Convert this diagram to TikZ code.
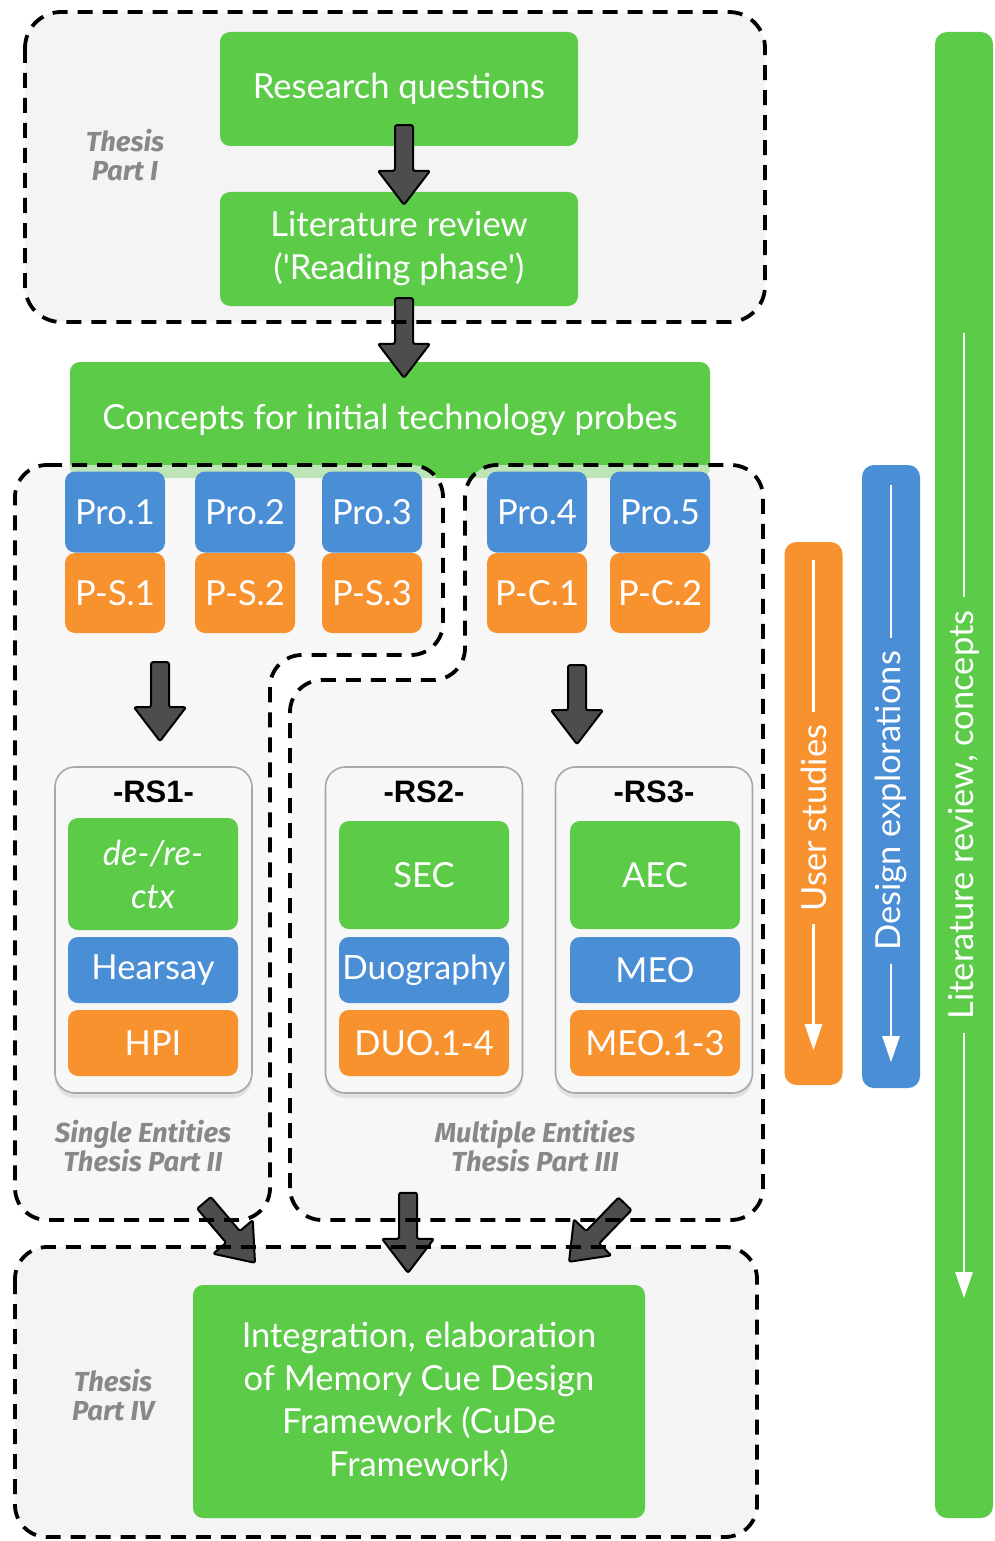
\documentclass[tikz,border=0pt]{standalone}
\usepackage{fontspec}
\setmainfont{Lato}
\newfontfamily\rsfont{Liberation Sans}
\newfontfamily\labelfont{Fira Sans}
\usetikzlibrary{calc,arrows.meta,shadows}

\definecolor{cgreen}{HTML}{5CCB48}
\definecolor{cblue}{HTML}{4A8ED6}
\definecolor{corange}{HTML}{F8922F}
\definecolor{cgrayfill}{HTML}{F4F4F4}
\definecolor{cbox}{HTML}{F7F7F7}
\definecolor{carrow}{HTML}{4D4D4D}
\definecolor{clabel}{HTML}{888888}
\definecolor{cframe}{HTML}{A8A8A8}

\begin{document}
\begin{tikzpicture}[x=1pt,y=-1pt,
  partfill/.style={fill=cgrayfill, rounded corners=32pt},
  partedge/.style={draw=black, line width=3.8pt, dash pattern=on 15pt off 10pt, rounded corners=32pt},
  card/.style={rectangle, rounded corners=10pt, inner sep=0pt, text=white, align=center,
    font=\fontsize{34.5}{43}\selectfont},
  gcard/.style={card, fill=cgreen},
  bcard/.style={card, fill=cblue},
  ocard/.style={card, fill=corange},
  probe/.style={minimum width=100pt, minimum height=81pt},
  rsitem/.style={minimum width=170pt},
  rsbox/.style={rectangle, rounded corners=20pt, draw=cframe, line width=1.6pt, fill=cbox,
    minimum width=197pt, minimum height=326pt,
    drop shadow={shadow xshift=0pt, shadow yshift=-5pt, opacity=0.18}},
  rstitle/.style={font=\rsfont\bfseries\fontsize{31}{36}\selectfont, text=black, inner sep=0pt},
  partlabel/.style={text=clabel, align=center, inner sep=0pt,
    font=\labelfont\bfseries\itshape\fontsize{27.5}{29}\selectfont},
  fat/.style={draw=black, line width=2pt, fill=carrow, line join=round, rounded corners=2pt,
    to path={($(\tikztotarget)!34pt!(\tikztostart)$) coordinate (fat-h)
      ($(\tikztostart)!9pt!90:(\tikztotarget)$) -- ($(fat-h)!9pt!90:(\tikztotarget)$)
      -- ($(fat-h)!26pt!90:(\tikztotarget)$) -- (\tikztotarget)
      -- ($(fat-h)!26pt!-90:(\tikztotarget)$) -- ($(fat-h)!9pt!-90:(\tikztotarget)$)
      -- ($(\tikztostart)!9pt!-90:(\tikztotarget)$) -- cycle}},
  bar/.style={rectangle, rounded corners=12pt, minimum width=58pt, inner sep=0pt},
  bartext/.style={rotate=90, text=white, inner xsep=13pt, inner ysep=0pt,
    font=\fontsize{34.5}{40}\selectfont},
  barline/.style={draw=white, line width=2.6pt},
]
\useasboundingbox (0,0) rectangle (995,1541);
\fill[white] (0,0) rectangle (995,1541);

% ---- Part I: research questions and reading phase
\fill[partfill, rounded corners=36pt] (25,12) rectangle (765,322);
\node[gcard, minimum width=358pt, minimum height=114pt] (rq) at (399,89) {Research questions};
\node[gcard, minimum width=358pt, minimum height=114pt] (lr) at (399,249)
  {Literature review\\(\textquotesingle Reading phase\textquotesingle)};
\node[partlabel] (p1) at (125,155) {Thesis\\Part I};

% ---- concepts for the probes
\node[gcard, minimum width=640pt, minimum height=116pt] (cp) at (390,420)
  {Concepts for initial technology probes};

% ---- Parts II, III, IV: shaded areas
\fill[partfill, fill opacity=0.65] (15,465) -- (443,465) -- (443,655) -- (270,655)
  -- (270,1220) -- (15,1220) -- cycle;
\fill[partfill, fill opacity=0.65] (290,1220) -- (290,680) -- (465,680) -- (465,465)
  -- (763,465) -- (763,1220) -- cycle;
\fill[partfill] (15,1247) rectangle (757,1537);

% ---- probes
\node[bcard, probe] (pro1) at (115,512) {Pro.1};
\node[bcard, probe] (pro2) at (245,512) {Pro.2};
\node[bcard, probe] (pro3) at (372,512) {Pro.3};
\node[bcard, probe] (pro4) at (537,512) {Pro.4};
\node[bcard, probe] (pro5) at (660,512) {Pro.5};
\node[ocard, probe, minimum height=80pt] (ps1) at (115,593) {P-S.1};
\node[ocard, probe, minimum height=80pt] (ps2) at (245,593) {P-S.2};
\node[ocard, probe, minimum height=80pt] (ps3) at (372,593) {P-S.3};
\node[ocard, probe, minimum height=80pt] (pc1) at (537,593) {P-C.1};
\node[ocard, probe, minimum height=80pt] (pc2) at (660,593) {P-C.2};

% ---- research studies
\node[rsbox] (rs1) at (153.5,930) {};
\node[rstitle] (rs1t) at (153.5,792) {-RS1-};
\node[gcard, rsitem, minimum height=112pt, font=\itshape\fontsize{34.5}{43}\selectfont] (ctx) at (153,874) {de-/re-\\ctx};
\node[bcard, rsitem, minimum height=66pt] (hearsay) at (153,970) {Hearsay};
\node[ocard, rsitem, minimum height=66pt] (hpi) at (153,1043) {HPI};

\node[rsbox] (rs2) at (424,930) {};
\node[rstitle] (rs2t) at (424,792) {-RS2-};
\node[gcard, rsitem, minimum height=108pt] (sec) at (424,875) {SEC};
\node[bcard, rsitem, minimum height=66pt, font=\fontsize{33.5}{43}\selectfont] (duo) at (424,970) {Duography};
\node[ocard, rsitem, minimum height=66pt] (duos) at (424,1043) {DUO.1-4};

\node[rsbox] (rs3) at (654,930) {};
\node[rstitle] (rs3t) at (654,792) {-RS3-};
\node[gcard, rsitem, minimum height=108pt] (aec) at (655,875) {AEC};
\node[bcard, rsitem, minimum height=66pt] (meo) at (655,970) {MEO};
\node[ocard, rsitem, minimum height=66pt] (meos) at (655,1043) {MEO.1-3};

\node[partlabel] (p2) at (143,1146) {Single Entities\\Thesis Part II};
\node[partlabel] (p3) at (535,1146) {Multiple Entities\\Thesis Part III};

% ---- Part IV: framework
\node[gcard, minimum width=452pt, minimum height=233pt] (cude) at (419,1401.5)
  {Integration, elaboration\\of Memory Cue Design\\Framework (CuDe\\Framework)};
\node[partlabel] (p4) at (113,1395) {Thesis\\Part IV};

% ---- flow arrows
\coordinate (a1s) at ($(rq.south)+(5,-21)$);
\coordinate (a1e) at ($(lr.north)+(5,13)$);
\coordinate (a2s) at ($(lr.south)+(5,-8)$);
\coordinate (a2e) at ($(cp.north)+(14,16)$);
\coordinate (a3s) at ($(ps1.south)+(45,29)$);
\coordinate (a3e) at ($(rs1.north)+(6.5,-25)$);
\coordinate (a4s) at ($(pc1.south)+(40,32)$);
\coordinate (a4e) at ($(rs3.north)+(-77,-22)$);
\coordinate (a5s) at ($(rs1.south)+(50.5,109)$);
\coordinate (a5e) at ($(cude.north)+(-164,-22)$);
\coordinate (a6s) at ($(rs2.south)+(-16,99)$);
\coordinate (a6e) at ($(cude.north)+(-11,-12)$);
\coordinate (a7s) at ($(rs3.south)+(-29,110)$);
\coordinate (a7e) at ($(cude.north)+(150,-23)$);
\path[fat] (a1s) to (a1e);
\path[fat] (a2s) to (a2e);
\path[fat] (a3s) to (a3e);
\path[fat] (a4s) to (a4e);
\path[fat] (a5s) to (a5e);
\path[fat] (a6s) to (a6e);
\path[fat] (a7s) to (a7e);

% ---- dashed outlines of the thesis parts
\draw[partedge, rounded corners=36pt] (25,12) rectangle (765,322);
\draw[partedge] (15,465) -- (443,465) -- (443,655) -- (270,655)
  -- (270,1220) -- (15,1220) -- cycle;
\draw[partedge] (290,1220) -- (290,680) -- (465,680) -- (465,465)
  -- (763,465) -- (763,1220) -- cycle;
\draw[partedge] (15,1247) rectangle (757,1537);

% ---- side bars
\node[bar, fill=corange, minimum height=543pt] (usbar) at (813.5,813.5) {};
\node[bartext] (ust) at (813.5,818) {User studies};
\draw[barline] ($(usbar.north)+(0,18)$) -- (ust.east);
\draw[barline, -{Triangle[width=17pt,length=26pt]}] (ust.west) -- ($(usbar.south)+(0,-35)$);

\node[bar, fill=cblue, minimum height=623pt] (debar) at (891,776.5) {};
\node[bartext] (det) at (891,801) {Design explorations};
\draw[barline] ($(debar.north)+(0,20)$) -- (det.east);
\draw[barline, -{Triangle[width=17pt,length=26pt]}] (det.west) -- ($(debar.south)+(0,-26)$);

\node[bar, fill=cgreen, minimum height=1486pt] (lrbar) at (964,775) {};
\node[bartext] (lrt) at (964,815) {Literature review, concepts};
\draw[barline] ($(lrbar.north)+(0,301)$) -- (lrt.east);
\draw[barline, -{Triangle[width=17pt,length=26pt]}] (lrt.west) -- ($(lrbar.south)+(0,-220)$);
\end{tikzpicture}
\end{document}
